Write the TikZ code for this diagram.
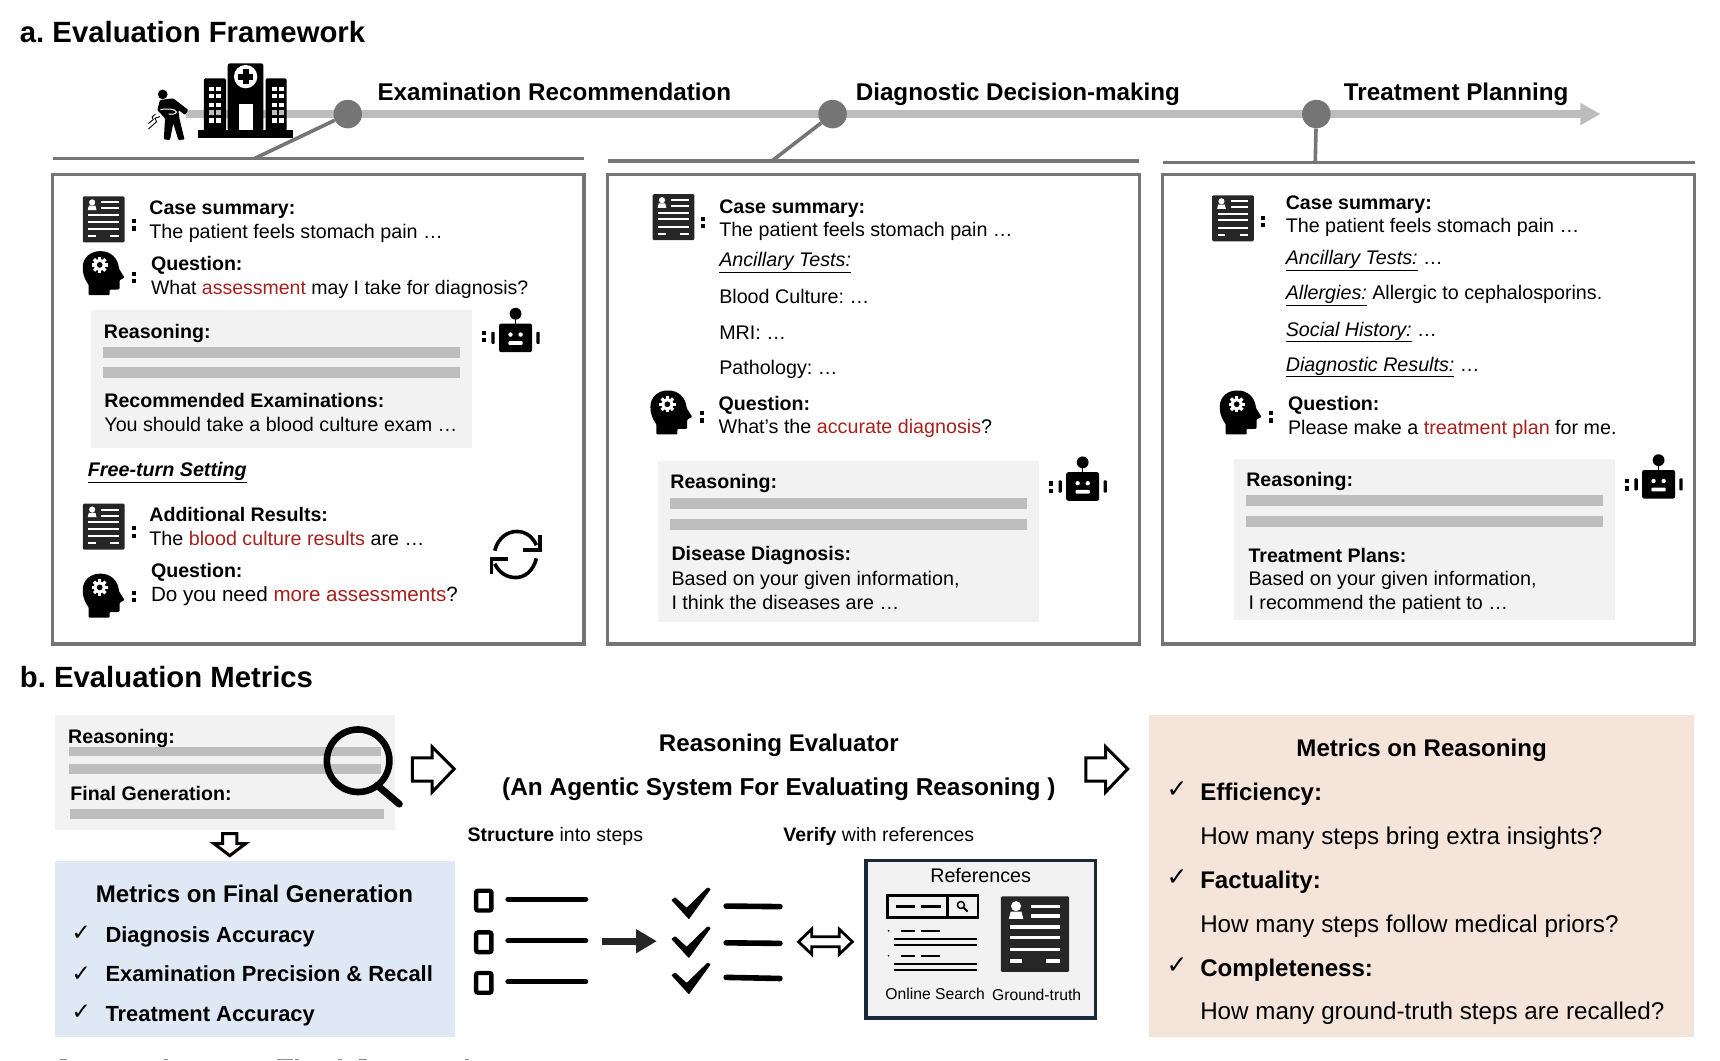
\documentclass[tikz,border=0pt]{standalone}
\usepackage{fontspec}
\setmainfont{Liberation Sans}
\newfontfamily\chkfont{DejaVu Sans}
\usetikzlibrary{arrows.meta}
\definecolor{barg}{HTML}{BDBDBD}
\definecolor{frameg}{HTML}{757575}
\definecolor{panelg}{HTML}{F2F2F2}
\definecolor{redt}{HTML}{A5211D}
\definecolor{iconk}{HTML}{262626}
\definecolor{bluep}{HTML}{DFE8F5}
\definecolor{peachp}{HTML}{F5E4D9}
\definecolor{navyb}{HTML}{1B2A38}
\newcommand{\rd}[1]{\textcolor{redt}{#1}}
\frenchspacing
\tikzset{
  tx/.style={anchor=west,inner sep=0pt,font=\fontsize{19.7}{22}\selectfont,text height=16pt,text depth=2pt},
  bd/.style={tx,font=\fontsize{19.6}{22}\selectfont\bfseries},
  ttl/.style={tx,font=\fontsize{29.3}{32}\selectfont\bfseries,text height=24pt,text depth=3pt},
  stg/.style={tx,font=\fontsize{24.2}{28}\selectfont\bfseries,text height=20pt,text depth=3pt},
  mbd/.style={tx,font=\fontsize{21.9}{26}\selectfont\bfseries,text height=18pt,text depth=3pt},
  rbd/.style={tx,font=\fontsize{24.1}{28}\selectfont\bfseries,text height=20pt,text depth=3pt},
  rtx/.style={tx,font=\fontsize{24.2}{28}\selectfont,text height=20pt,text depth=3pt},
  hd/.style={rbd,anchor=center},
  smt/.style={tx,anchor=center,font=\fontsize{15.7}{18}\selectfont,text height=14pt,text depth=1pt},
  chk/.style={inner sep=0pt,font=\chkfont\fontsize{23}{24}\selectfont},
  chkb/.style={inner sep=0pt,font=\chkfont\fontsize{25}{26}\selectfont},
  frm/.style={draw=frameg,line width=3.4pt,fill=white},
  rule/.style={draw=frameg,line width=3.6pt},
  panel/.style={fill=panelg,draw=none},
  bar/.style={fill=barg,draw=none},
  outl/.style={draw=black,line width=3pt,fill=white,line join=miter},
  pics/docicon/.style={code={
    \begin{scope}[scale=#1]
    \fill[iconk,rounded corners=1.2pt] (-19,-21) rectangle (19,21);
    \begin{scope}[draw=white,line width=#1*2pt]
      \fill[white] (-10.5,-15.5) circle (2.8);
      \fill[white] (-14.5,-8.5) -- (-13.5,-12.5) -- (-7.5,-12.5) -- (-6.5,-8.5) -- cycle;
      \draw (-2,-15.5) -- (14,-15.5);
      \draw (-2,-10) -- (14,-10);
      \draw (-14,-4) -- (14,-4);
      \draw (-14,2) -- (14,2);
      \draw (-14,8.5) -- (14,8.5);
      \draw (-14,15) -- (-7,15);
      \draw (6,15) -- (14,15);
    \end{scope}
    \end{scope}}},
  pics/headicon/.style={code={
    \fill[black,rounded corners=.8pt] (-13.6,20) -- (-13.6,11) .. controls (-16,7) and (-19,3) .. (-19,-5)
      .. controls (-19,-14) and (-12,-20) .. (-3,-20) .. controls (6,-20) and (13,-14) .. (14,-4)
      -- (19,4) -- (14.5,6.5) -- (14.5,13) .. controls (14.5,15) and (13,15) .. (11,15)
      -- (5.5,15) -- (5.5,20) -- cycle;
    \begin{scope}[shift={(-3.6,-7.5)}]
      \fill[white] (0,0) circle (5.4);
      \foreach \a in {0,45,...,315}{\fill[white,rotate=\a] (-1.5,-7.4) rectangle (1.5,0);}
      \fill[black] (0,0) circle (2.6);
    \end{scope}}},
  pics/roboticon/.style={code={
    \fill[black,rounded corners=2pt] (-15,-13) rectangle (15,13);
    \draw[black,line width=1.6pt] (0,-22) -- (0,-13);
    \fill[black] (0,-22) circle (5.4);
    \fill[white] (-4.6,-3) circle (2);
    \fill[white] (4.6,-3) circle (2);
    \fill[white,rounded corners=1pt] (-6.5,3) rectangle (6.5,6.5);
    \fill[black,rounded corners=.8pt] (-22,-5.5) rectangle (-19,5.5);
    \fill[black,rounded corners=.8pt] (19,-5.5) rectangle (22,5.5);}},
  pics/colonicon/.style={code={
    \fill[black] (-1.9,-5.2) rectangle (1.9,-1.4);
    \fill[black] (-1.9,1.4) rectangle (1.9,5.2);}},
  pics/bigcheck/.style={code={
    \fill[black,rounded corners=.6pt] (-18,-3) -- (-14.5,-5.5) -- (-4,4) -- (15,-14.5) -- (18,-13) -- (-2,14.5) -- cycle;}},
}
\begin{document}
\begin{tikzpicture}[x=1.0969pt,y=-1.0969pt]
\useasboundingbox (0,0) rectangle (1568,966.4);
\fill[white] (0,0) rectangle (1568,966.4);

%% ---------- a. Framework ----------
\node[ttl] (ta) at (18,29) {a. Evaluation Framework};

\coordinate (tl0) at (170,104);
\coordinate (tl1) at (1459,104);
\draw[barg,line width=7.6pt,-{Triangle[length=20pt,width=21pt]}] (tl0) -- (tl1);

% patient + hospital
\begin{scope}[scale=1.005]
  \fill[black] (147.6,85.6) circle (4.4);
  \fill[black,rounded corners=1pt] (145.1,90.7) -- (157.2,89.2) -- (170.8,99.8) -- (167.8,104.3) -- (161.8,99.8)
     -- (162.7,107.3) -- (167.4,126.5) -- (161.8,127) -- (157.2,111.9) -- (154.2,127) -- (148.6,126.5) -- (149.7,107.3) -- (142.7,99.8) -- cycle;
  \draw[white,line width=1pt] (145.5,99.6) .. controls (150,98) and (160,99) .. (160,101.5) .. controls (160,103.5) and (155,104) .. (153,103.4);
  \draw[black,line width=.9pt] (145.1,105.8) -- (140.6,107.3) -- (142.1,110.4) -- (134.6,117);
  \draw[black,line width=.9pt] (141,103.5) -- (138,106) -- (139,108.5) -- (134.6,112);
  % hospital
  \fill[black] (179.9,117.9) rectangle (265.9,124.9);
  \fill[black,rounded corners=2.5pt] (206.5,57.4) rectangle (239,119);
  \fill[black,rounded corners=1.5pt] (185,71) rectangle (205,119);
  \fill[black,rounded corners=1.5pt] (241,71) rectangle (260,119);
  \fill[white] (222.8,69.5) circle (10.6);
  \fill[black] (220,62.5) rectangle (225.6,76.5);
  \fill[black] (215.8,66.7) rectangle (229.8,72.3);
  \fill[white] (217,94.3) rectangle (229.8,118);
  \foreach \ya/\yb/\wc in {78.6/82.5/white,85.6/89.2/white,93.1/97/white,99.8/104.3/barg,107.3/111.9/white}{
    \foreach \xa/\xb in {189.6/194.1,195.9/200.5,246.4/251,253/257.6}{
      \fill[\wc] (\xa,\ya) rectangle (\xb,\yb);
    }
  }
\end{scope}

\node[circle,fill=frameg,minimum size=28.5pt,inner sep=0pt] (d1) at (317,104) {};
\node[circle,fill=frameg,minimum size=28.5pt,inner sep=0pt] (d2) at (759,104) {};
\node[circle,fill=frameg,minimum size=28.5pt,inner sep=0pt] (d3) at (1200,104) {};
\coordinate (r1a) at (48,144.5); \coordinate (r1b) at (532,144.5); \coordinate (r1c) at (232,144.5);
\coordinate (r2a) at (554,146.5); \coordinate (r2b) at (1038,146.5); \coordinate (r2c) at (704,146.5);
\coordinate (r3a) at (1060,148); \coordinate (r3b) at (1545,148); \coordinate (r3c) at (1199,148);
\draw[rule] (r1a) -- (r1b);
\draw[rule] (r2a) -- (r2b);
\draw[rule] (r3a) -- (r3b);
\draw[rule] (d1) -- (r1c);
\draw[rule] (d2) -- (r2c);
\draw[rule] (d3) -- (r3c);

\node[stg] (s1) at (344,84) {Examination Recommendation};
\node[stg] (s2) at (780,84) {Diagnostic Decision-making};
\node[stg] (s3) at (1225,84) {Treatment Planning};

% frames
\draw[frm] (48,159) rectangle (532.5,587);
\draw[frm] (554,159) rectangle (1039,587);
\draw[frm] (1060,159) rectangle (1545,587);

%% Box 1
\pic at (94.5,200) {docicon=1};
\pic at (122.5,205) {colonicon};
\node[bd] (a1) at (136,189) {Case summary:};
\node[tx] (a2) at (136,211) {The patient feels stomach pain …};
\pic at (94.5,249) {headicon};
\pic at (122.5,253) {colonicon};
\node[bd] (a3) at (137.5,240) {Question:};
\node[tx,font=\fontsize{19.5}{22}\selectfont] (a4) at (137.5,262) {What \rd{assessment} may I take for diagnosis?};
\fill[panel] (83,283) rectangle (430,408);
\node[bd] (a5) at (94.5,302) {Reasoning:};
\fill[bar] (94,316.5) rectangle (419,326.5);
\fill[bar] (94,335) rectangle (419,345);
\node[bd] (a6) at (95,365) {Recommended Examinations:};
\node[tx] (a7) at (95,387) {You should take a blood culture exam …};
\pic at (470,308) {roboticon};
\pic at (441,307) {colonicon};
\node[bd,font=\fontsize{19.7}{22}\selectfont\bfseries\itshape] (a8) at (80,428) {\underline{Free-turn Setting}};
\pic at (94.5,480) {docicon=1};
\pic at (122.5,485) {colonicon};
\node[bd] (a9) at (136,469) {Additional Results:};
\node[tx] (a10) at (136,491) {The \rd{blood culture results} are …};
\node[bd] (a11) at (137.5,520) {Question:};
\node[tx,font=\fontsize{20.6}{24}\selectfont] (a12) at (137.5,542) {Do you need \rd{more assessments}?};
\pic at (94.5,543) {headicon};
\pic at (122.5,544) {colonicon};
% cycle icon
\draw[black,line width=3.6pt] (451,502) .. controls (454,490) and (463,484.5) .. (471,484.5) .. controls (478,484.5) and (485,488) .. (489,497);
\draw[black,line width=3.6pt] (492,488) -- (492,501.5) -- (477,501.5);
\draw[black,line width=3.6pt] (489,509) .. controls (486,521) and (478,526.5) .. (470,526.5) .. controls (462,526.5) and (455,522) .. (451,514);
\draw[black,line width=3.6pt] (448,523) -- (448,509.5) -- (463,509.5);

%% Box 2
\pic at (614,198) {docicon=1};
\pic at (641,203) {colonicon};
\node[bd] (b1) at (655.5,188) {Case summary:};
\node[tx] (b2) at (655.5,209) {The patient feels stomach pain …};
\node[tx,font=\fontsize{19.7}{22}\selectfont\itshape] (b3) at (655.5,237) {\underline{Ancillary Tests:}};
\node[tx] (b4) at (655.5,270) {Blood Culture: …};
\node[tx] (b5) at (655.5,303) {MRI: …};
\node[tx] (b6) at (655.5,335) {Pathology: …};
\pic at (612,376) {headicon};
\pic at (640,380) {colonicon};
\node[bd] (b7) at (655,368) {Question:};
\node[tx] (b8) at (655,389) {What’s the \rd{accurate diagnosis}?};
\fill[panel] (600,420) rectangle (947,567);
\node[bd] (b9) at (611,439) {Reasoning:};
\fill[bar] (611,454) rectangle (936,464);
\fill[bar] (611,473) rectangle (936,483);
\node[bd] (b10) at (612,505) {Disease Diagnosis:};
\node[tx] (b11) at (612,527) {Based on your given information,};
\node[tx] (b12) at (612,549) {I think the diseases are …};
\pic at (987,443.5) {roboticon};
\pic at (958,444) {colonicon};

%% Box 3
\pic at (1124,199) {docicon=1};
\pic at (1151,202) {colonicon};
\node[bd] (c1) at (1172,185) {Case summary:};
\node[tx] (c2) at (1172,206) {The patient feels stomach pain …};
\node[tx] (c3) at (1172,235) {\textit{\underline{Ancillary Tests:}} …};
\node[tx] (c4) at (1172,267) {\textit{\underline{Allergies:}} Allergic to cephalosporins.};
\node[tx] (c5) at (1172,300) {\textit{\underline{Social History:}} …};
\node[tx] (c6) at (1172,332) {\textit{\underline{Diagnostic Results:}} …};
\pic at (1131,376) {headicon};
\pic at (1159,380) {colonicon};
\node[bd] (c7) at (1174,368) {Question:};
\node[tx] (c8) at (1174,390) {Please make a \rd{treatment plan} for me.};
\fill[panel] (1125,418) rectangle (1472,565);
\node[bd] (c9) at (1136,437) {Reasoning:};
\fill[bar] (1136,451) rectangle (1461,461);
\fill[bar] (1136,470) rectangle (1461,480);
\node[bd] (c10) at (1138,506) {Treatment Plans:};
\node[tx] (c11) at (1138,527) {Based on your given information,};
\node[tx] (c12) at (1138,549) {I recommend the patient to …};
\pic at (1512,441.5) {roboticon};
\pic at (1483,442) {colonicon};

%% ---------- b. Metrics ----------
\node[ttl] (tb) at (18,617) {b. Evaluation Metrics};
\fill[panel] (50,652) rectangle (360,756.5);
\node[bd] (e1) at (62,671) {Reasoning:};
\fill[bar] (63,680.7) rectangle (347,689.5);
\fill[bar] (63,696.5) rectangle (347,705.6);
\node[bd] (e2) at (64,723) {Final Generation:};
\fill[bar] (64,737.6) rectangle (350,747);
\draw[black,line width=6.6pt] (326.5,693.5) circle (28.5);
\draw[black,line width=7pt,line cap=round] (344,716) -- (364,733);

% big arrows
\path[outl] (376,691) -- (394,691) -- (394,681) -- (414,701) -- (394,722) -- (394,712) -- (376,712) -- cycle;
\path[outl] (990,691) -- (1008,691) -- (1008,681) -- (1028,701) -- (1008,722) -- (1008,712) -- (990,712) -- cycle;
\path[outl] (203,760) -- (216,760) -- (216,769) -- (224,769) -- (209.5,780) -- (195,769) -- (203,769) -- cycle;

\fill[bluep] (50,785) rectangle (414.5,945.5);
\node[hd] (f1) at (232,815) {Metrics on Final Generation};
\node[chk] (f2k) at (74,851) {✓};
\node[mbd] (f2) at (96,852) {Diagnosis Accuracy};
\node[chk] (f3k) at (74,888) {✓};
\node[mbd] (f3) at (96,888) {Examination Precision \& Recall};
\node[chk] (f4k) at (74,923) {✓};
\node[mbd] (f4) at (96,924) {Treatment Accuracy};

\node[hd] (g1) at (710,677) {Reasoning Evaluator};
\node[hd,font=\fontsize{24.4}{28}\selectfont\bfseries] (g2) at (710,717) {(An Agentic System For Evaluating Reasoning )};
\node[tx,font=\fontsize{19.5}{22}\selectfont] (g3) at (426,761) {\textbf{Structure} into steps};
\node[tx,font=\fontsize{19.5}{22}\selectfont] (g4) at (714,761) {\textbf{Verify} with references};

% list
\foreach \yy in {821,859,896}{
  \draw[black,line width=4.4pt,rounded corners=2pt] (434,\yy-9) rectangle (448,\yy+9);
}
\foreach \yy in {819.6,857.6,895}{
  \draw[black,line width=5pt,line cap=round] (463,\yy) -- (534,\yy);
}
\draw[iconk,line width=7pt] (548.5,858) -- (582,858);
\fill[iconk] (580,847) -- (598.5,858) -- (580,869) -- cycle;
\pic at (630,823.5) {bigcheck};
\pic at (630,859) {bigcheck};
\pic at (630,892) {bigcheck};
\draw[black,line width=5.6pt,line cap=round] (662,826) -- (711,826.5);
\draw[black,line width=5.6pt,line cap=round] (662,859.5) -- (711,860);
\draw[black,line width=5.6pt,line cap=round] (662,891) -- (711,892);
% double arrow
\path[draw=black,line width=2.8pt,fill=white,line join=miter] (728,858.5) -- (740,847) -- (740,854) -- (765,854) -- (765,847) -- (777,858.5) -- (765,870) -- (765,863) -- (740,863) -- (740,870) -- cycle;

% references
\draw[navyb,line width=3.2pt,fill=panelg] (789.5,784.5) rectangle (998.5,928);
\node[tx,anchor=center] (h1) at (894,798.5) {References};
\draw[black,line width=2.6pt] (809,816.6) rectangle (891.5,836.5);
\draw[black,line width=2.6pt] (864,816.6) -- (864,836.5);
\draw[black,line width=2.6pt] (816.5,826.6) -- (834,826.6);
\draw[black,line width=2.6pt] (840,826.6) -- (858,826.6);
\draw[black,line width=1.5pt] (876,825) circle (3.2);
\draw[black,line width=2pt] (878.5,827.5) -- (882,831);
\fill[black] (810,848.5) circle (.9);
\draw[black,line width=2.2pt] (821.5,848.5) -- (834,848.5);
\draw[black,line width=2.2pt] (840,848.5) -- (856.5,848.5);
\draw[black,line width=2.2pt] (815,856) -- (890.5,856);
\draw[black,line width=2.2pt] (815,861.6) -- (890.5,861.6);
\fill[black] (810,871.3) circle (.9);
\draw[black,line width=2.2pt] (821.5,871.3) -- (834,871.3);
\draw[black,line width=2.2pt] (840,871.3) -- (856.5,871.3);
\draw[black,line width=2.2pt] (815,878.9) -- (890.5,878.9);
\draw[black,line width=2.2pt] (815,884.4) -- (890.5,884.4);
\pic at (943.5,851.5) {docicon=1.64};
\node[smt] (h2) at (852.5,905) {Online Search};
\node[smt] (h3) at (945,906) {Ground-truth};

% reasoning metrics
\fill[peachp] (1047.5,652) rectangle (1544.5,945);
\node[hd] (k1) at (1296,682) {Metrics on Reasoning};
\node[chkb] (k2k) at (1073,720) {✓};
\node[rbd] (k2) at (1094,722) {Efficiency:};
\node[rtx] (k3) at (1094,762) {How many steps bring extra insights?};
\node[chkb] (k4k) at (1073,800) {✓};
\node[rbd] (k4) at (1094,802) {Factuality:};
\node[rtx] (k5) at (1094,842) {How many steps follow medical priors?};
\node[chkb] (k6k) at (1073,880) {✓};
\node[rbd] (k6) at (1094,882) {Completeness:};
\node[rtx] (k7) at (1094,922) {How many ground-truth steps are recalled?};

% cropped text tops at the lower edge
\foreach \xa/\xb in {54.7/61,149.5/153,252.5/267,269/272.6,308/311.8,327/334.6,424/427.6}{
  \fill[black!45] (\xa,965) rectangle (\xb,966.4);
}
\end{tikzpicture}
\end{document}
